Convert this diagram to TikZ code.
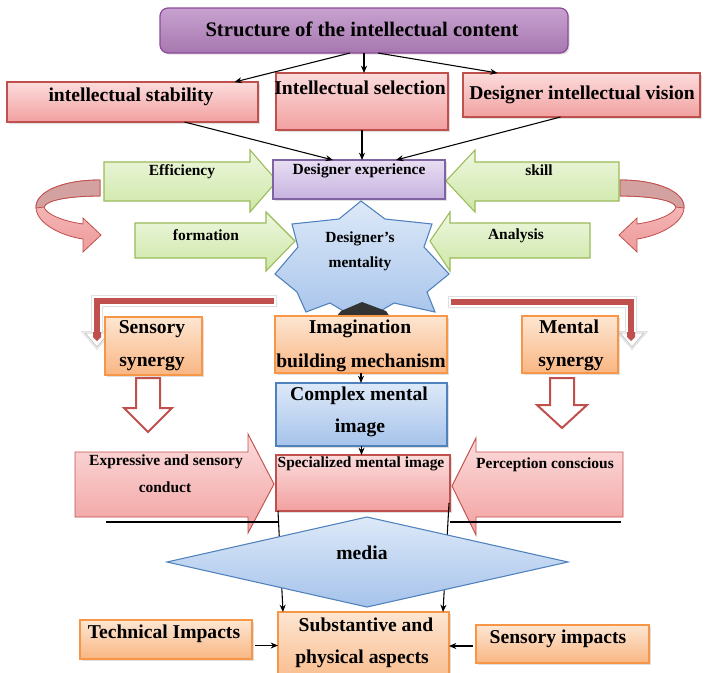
\documentclass[tikz,border=0pt]{standalone}
\usepackage{fontspec}
\setmainfont{Liberation Serif}
\usetikzlibrary{arrows.meta,calc,shadows}
\definecolor{cPurT}{HTML}{C8A2D0}
\definecolor{cPurB}{HTML}{A677AF}
\definecolor{cPurD}{HTML}{8E4A9A}
\definecolor{cLavT}{HTML}{E8DEF3}
\definecolor{cLavB}{HTML}{C6B2DF}
\definecolor{cLavD}{HTML}{8064A2}
\definecolor{cRedT}{HTML}{FCDCDC}
\definecolor{cRedBot}{HTML}{F2A0A0}
\definecolor{cRedD}{HTML}{C0504D}
\definecolor{cGrnT}{HTML}{EEF7DF}
\definecolor{cGrnB}{HTML}{CDE7A6}
\definecolor{cGrnD}{HTML}{9BBB59}
\definecolor{cOrT}{HTML}{FDE6D2}
\definecolor{cOrB}{HTML}{F9B683}
\definecolor{cOrD}{HTML}{F79646}
\definecolor{cBluT}{HTML}{DDE9F8}
\definecolor{cBluB}{HTML}{A6C3EB}
\definecolor{cBluD}{HTML}{4F81BD}
\definecolor{cCurT}{HTML}{F8C6C6}
\definecolor{cCurB}{HTML}{EE9A9A}
\definecolor{cCurBack}{HTML}{D4A1A1}
\newcommand{\mkbox}[6]{\node[#2, minimum width={(#5-#3)*0.75pt}, minimum height={(#6-#4)*0.75pt}] (#1) at ({(#3+#5)/2},{(#4+#6)/2}) {};}
\begin{document}
\begin{tikzpicture}[x=0.75pt,y=-0.75pt,
  boxbase/.style={inner sep=0pt, outer sep=0pt, line width=0.9pt,
    drop shadow={shadow xshift=1.2pt, shadow yshift=-1.2pt, opacity=0.25}},
  titlebox/.style={boxbase, rounded corners=6pt, draw=cPurD, top color=cPurT, bottom color=cPurB},
  lavbox/.style={boxbase, draw=cLavD, top color=cLavT, bottom color=cLavB},
  redbox/.style={boxbase, draw=cRedD, top color=cRedT, bottom color=cRedBot},
  orbox/.style={boxbase, draw=cOrD, top color=cOrT, bottom color=cOrB},
  blubox/.style={boxbase, draw=cBluD, top color=cBluT, bottom color=cBluB},
  greenarrow/.style={draw=cGrnD, line width=0.8pt, top color=cGrnT, bottom color=cGrnB},
  pinkarrow/.style={draw=cRedD, line width=0.7pt, top color=cRedT, bottom color=cRedBot},
  hollow/.style={fill=white, draw=cRedD, line width=1.5pt, line join=miter},
  lred/.style={fill=cRedD, draw=white, line width=1.4pt, preaction={draw=black!12, line width=3pt}},
  curvfront/.style={draw=cRedD, line width=0.6pt, top color=cCurT, bottom color=cCurB},
  curvback/.style={draw=cRedD, line width=0.6pt, fill=cCurBack},
  conn/.style={draw=black, line width=0.8pt, -{Stealth[length=5.5pt,width=4.5pt]}},
  thinline/.style={draw=black, line width=0.8pt},
  bigt/.style={font=\fontsize{14.7}{17}\selectfont\bfseries, inner sep=0pt, anchor=base},
  smallt/.style={font=\fontsize{11.6}{14}\selectfont\bfseries, inner sep=0pt, anchor=base},
  titlet/.style={font=\fontsize{15.5}{18}\selectfont\bfseries, inner sep=0pt, anchor=base}]
\path[use as bounding box, clip] (0,0) rectangle (706,672);
\fill[white] (0,0) rectangle (706,672);

% ---------- top part ----------
\mkbox{title}{titlebox}{160}{8}{568}{53}
\node[titlet] (ttitle) at (362,36) {Structure of the intellectual content};

\mkbox{stab}{redbox}{7}{82}{258}{122}
\mkbox{sel}{redbox}{276}{73}{448}{130}
\mkbox{vis}{redbox}{463}{73}{700}{117}
\node[bigt] (tstab) at (131,101) {intellectual stability};
\node[bigt] (tsel) at (360,94) {Intellectual selection};
\node[bigt] (tvis) at (582,99) {Designer intellectual vision};

\draw[conn] ($(title.south)+(-14,0)$) -- ($(stab.north)+(102,0)$);
\draw[conn] (title.south) -- (title.south |- sel.north);
\draw[conn] ($(title.south)+(14,0)$) -- ($(vis.north)+(-84,0)$);

% ---------- curved arrows ----------
\path[curvfront] (100,180) .. controls (62,180) and (35,192) .. (36,208) .. controls (37,224) and (62,236) .. (83,239) -- (83,252) -- (101,235) -- (83,218) -- (83,224) .. controls (62,221) and (46,214) .. (44,207) .. controls (46,200) and (70,196) .. (100,196) -- cycle;
\path[curvback] (100,180) .. controls (62,180) and (35,192) .. (36,208) -- (44,207) .. controls (46,200) and (70,196) .. (100,196) -- cycle;
\begin{scope}[shift={(720,0)}, xscale=-1]
\path[curvfront] (100,180) .. controls (62,180) and (35,192) .. (36,208) .. controls (37,224) and (62,236) .. (83,239) -- (83,252) -- (101,235) -- (83,218) -- (83,224) .. controls (62,221) and (46,214) .. (44,207) .. controls (46,200) and (70,196) .. (100,196) -- cycle;
\path[curvback] (100,180) .. controls (62,180) and (35,192) .. (36,208) -- (44,207) .. controls (46,200) and (70,196) .. (100,196) -- cycle;
\end{scope}

% ---------- green arrows ----------
\path[greenarrow] (104,162) -- (250,162) -- (250,150) -- (277,181) -- (250,212) -- (250,201) -- (104,201) -- cycle;
\path[greenarrow] (619,162) -- (475,162) -- (475,150) -- (446,181) -- (475,212) -- (475,201) -- (619,201) -- cycle;
\path[greenarrow] (135,223) -- (266,223) -- (266,212) -- (295,241) -- (266,271) -- (266,258) -- (135,258) -- cycle;
\path[greenarrow] (590,223) -- (450,223) -- (450,212) -- (430,241) -- (450,271) -- (450,258) -- (590,258) -- cycle;
\node[smallt] (teff) at (182,175) {Efficiency};
\node[smallt] (tskill) at (539,175) {skill};
\node[smallt] (tform) at (206,240) {formation};
\node[smallt] (tana) at (516,239) {Analysis};

\mkbox{exp}{lavbox}{273}{160}{445}{199}
\node[smallt] (texp) at (359,174) {Designer experience};
\draw[conn] ($(stab.south)+(52,0)$) -- ($(exp.north)+(-26,0)$);
\draw[conn] (sel.south) -- (sel.south |- exp.north);
\draw[conn] ($(vis.south)+(-21,0)$) -- ($(exp.north)+(37,0)$);

% ---------- star ----------
\path[draw=cBluD, line width=0.8pt, top color=cBluT, bottom color=cBluB, line join=miter]
  (361,201) -- (385,219) -- (432,224) -- (424,247) -- (449,274) -- (427,292) -- (435,312) -- (394,303) -- (362,322) -- (330,303) -- (306,312) -- (297,292) -- (275,274) -- (298,247) -- (292,224) -- (339,219) -- cycle;
\node[smallt] (tdm1) at (360,242) {Designer’s};
\node[smallt] (tdm2) at (360,267) {mentality};
\fill[black!80] (336,317) -- (341,311) -- (362,302) -- (386,311) -- (390,317) -- cycle;

% ---------- L-shaped red arrows ----------
\path[lred] (275,297) -- (93,297) -- (93,333) -- (85,333) -- (97,347) -- (109,333) -- (101,333) -- (101,305) -- (275,305) -- cycle;
\path[fill=white, draw=black!25, line width=0.6pt] (85,333) -- (109,333) -- (97,347) -- cycle;
\fill[cRedD] (93,332) -- (101,332) -- (101,337) -- (97,341) -- (93,337) -- cycle;
\path[lred] (450,298) -- (635,298) -- (635,333) -- (644,333) -- (632,347) -- (620,333) -- (627,333) -- (627,306) -- (450,306) -- cycle;
\path[fill=white, draw=black!25, line width=0.6pt] (620,333) -- (644,333) -- (632,347) -- cycle;
\fill[cRedD] (627,332) -- (635,332) -- (635,337) -- (631,341) -- (627,337) -- cycle;

% ---------- middle boxes ----------
\mkbox{sens}{orbox}{105}{317}{202}{375}
\mkbox{imag}{orbox}{275}{316}{447}{373}
\mkbox{ment}{orbox}{522}{316}{618}{373}
\node[bigt] (tsen1) at (152,333) {Sensory};
\node[bigt] (tsen2) at (152,366) {synergy};
\node[bigt] (timg1) at (360,333) {Imagination};
\node[bigt] (timg2) at (361,367) {building mechanism};
\node[bigt] (tmen1) at (569,333) {Mental};
\node[bigt] (tmen2) at (571,366) {synergy};

\mkbox{cmi}{blubox}{276}{383}{447}{446}
\node[bigt] (tcmi1) at (359,400) {Complex mental};
\node[bigt] (tcmi2) at (360,432) {image};
\draw[conn] (imag.south) -- (imag.south |- cmi.north);

\path[hollow] (136,378) -- (160,378) -- (160,408) -- (172,408) -- (148,432) -- (124,408) -- (136,408) -- cycle;
\path[hollow] (550,378) -- (574,378) -- (574,405) -- (587,405) -- (562,428) -- (537,405) -- (550,405) -- cycle;

% ---------- pink arrows and specialized image ----------
\path[pinkarrow] (75,452) -- (248,452) -- (248,434) -- (274,484) -- (248,533) -- (248,517) -- (75,517) -- cycle;
\path[pinkarrow] (623,452) -- (476,452) -- (476,438) -- (452,486) -- (476,535) -- (476,517) -- (623,517) -- cycle;
\node[smallt] (texp1) at (166,465) {Expressive and sensory};
\node[smallt] (texp2) at (165,492) {conduct};
\node[smallt] (tper) at (545,468) {Perception conscious};

\mkbox{spec}{redbox}{276}{455}{450}{511}
\node[smallt] (tspec) at (361,467) {Specialized mental image};
\draw[conn] (cmi.south) -- (cmi.south |- spec.north);

% ---------- bottom ----------
\mkbox{subst}{orbox}{278}{612}{449}{690}
\mkbox{tech}{orbox}{80}{620}{252}{659}
\mkbox{simp}{orbox}{476}{625}{649}{663}

\coordinate (hl1) at (106,522);
\coordinate (hl2) at (279,522);
\coordinate (hr1) at (450,522);
\coordinate (hr2) at (621,522);
\draw[thinline] (hl1) -- (hl2);
\draw[thinline] (hr1) -- (hr2);
\draw[conn] ($(spec.south west)+(2,0)$) -- ($(subst.north west)+(5,0)$);
\draw[conn] ($(spec.south east)+(-1,-8)$) -- ($(subst.north east)+(-6,0)$);

\path[draw=cBluD, line width=0.8pt, top color=cBluT, bottom color=cBluB]
  (167,562) -- (367,517) -- (568,562) -- (367,607) -- cycle;
\node[bigt] (tmedia) at (362,559) {media};

\node[bigt] (tsub1) at (366,631) {Substantive and};
\node[bigt] (tsub2) at (362,663) {physical aspects};
\node[bigt] (ttech) at (164,638) {Technical Impacts};
\node[bigt] (tsimp) at (558,643) {Sensory impacts};
\draw[conn] ($(tech.east)+(3,6)$) -- ($(tech.east -| subst.west)+(0,6)$);
\draw[conn] ($(simp.west)+(-3,2)$) -- ($(simp.west -| subst.east)+(0,2)$);
\end{tikzpicture}
\end{document}
